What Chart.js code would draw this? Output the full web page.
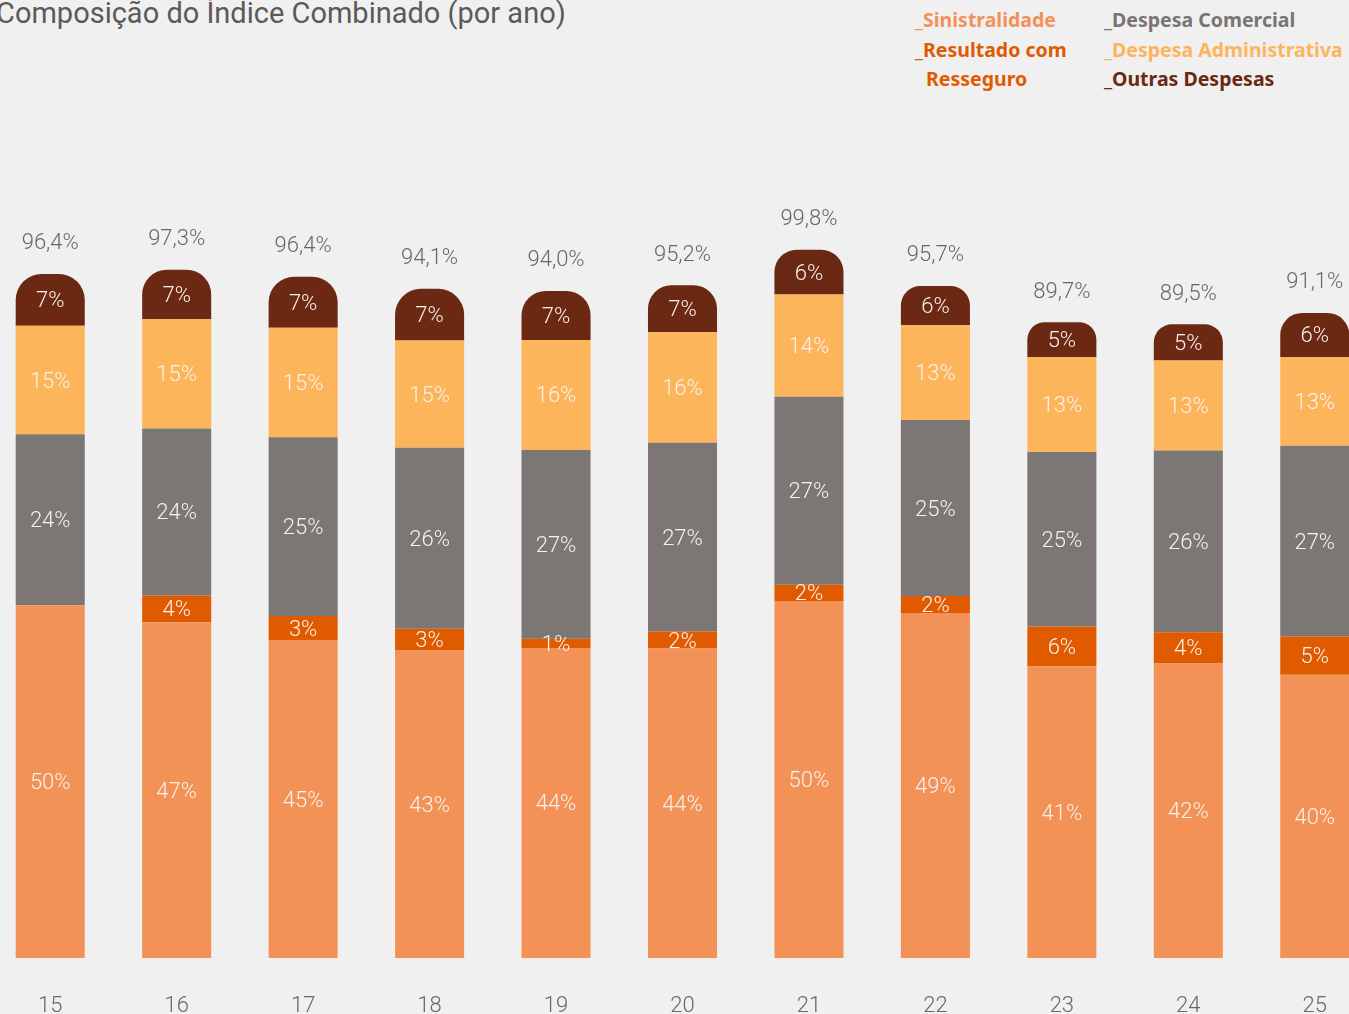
<!DOCTYPE html>
<html>
<head>
<meta charset="utf-8">
<script src="https://cdn.jsdelivr.net/npm/chart.js@4/dist/chart.umd.min.js"></script>
<style>
  html, body { margin: 0; padding: 0; background: #f0f0f0; overflow: hidden; }
  body { width: 1349px; height: 1014px; position: relative; }
  #title { position: absolute; left: -4px; top: -4px; font: 400 29px Roboto, sans-serif; color: #5d5955; white-space: nowrap; }
  .legend { position: absolute; top: 5px; font: 700 19.5px "Noto Sans", sans-serif; line-height: 29.5px; }
  .legend div { white-space: nowrap; }
  #wrap { position: absolute; left: -13px; top: 0; width: 1391px; height: 1014px; }
</style>
</head>
<body>
<div id="title">Composição do Índice Combinado (por ano)</div>
<div class="legend" style="left:915px">
  <div style="color:#f4915a">_Sinistralidade</div>
  <div style="color:#e05a00">_Resultado com</div>
  <div style="color:#e05a00;padding-left:11px">Resseguro</div>
</div>
<div class="legend" style="left:1104px">
  <div style="color:#7a7573">_Despesa Comercial</div>
  <div style="color:#fdb55b">_Despesa Administrativa</div>
  <div style="color:#6b2812">_Outras Despesas</div>
</div>
<div id="wrap"><canvas id="myChart"></canvas></div>
<script>
'use strict';

// data
let years = ['15', '16', '17', '18', '19', '20', '21', '22', '23', '24', '25'];
let sinistralidade = [49.7, 47.3, 44.8, 43.4, 43.7, 43.6, 50.3, 48.6, 41.1, 41.5, 39.9];
let resultadoResseguro = [0, 3.8, 3.4, 3.0, 1.3, 2.4, 2.3, 2.4, 5.6, 4.4, 5.4];
let despesaComercial = [24.1, 23.5, 25.2, 25.5, 26.6, 26.6, 26.5, 24.8, 24.6, 25.6, 26.9];
let despesaAdmin = [15.3, 15.4, 15.4, 15.1, 15.5, 15.6, 14.4, 13.4, 13.4, 12.7, 12.5];
let outrasDespesas = [7.3, 7.0, 7.2, 7.3, 6.9, 6.6, 6.3, 5.5, 4.9, 5.1, 6.2];
let totals = [96.4, 97.3, 96.4, 94.1, 94.0, 95.2, 99.8, 95.7, 89.7, 89.5, 91.1];

// draws the % inside each segment and the total above each bar
const barLabels = {
  id: 'barLabels',
  afterDatasetsDraw(chart) {
    let ctx = chart.ctx;
    ctx.save();
    ctx.textAlign = 'center';
    ctx.textBaseline = 'middle';
    ctx.font = '300 22px Roboto';
    chart.data.datasets.forEach((ds, i) => {
      let meta = chart.getDatasetMeta(i);
      meta.data.forEach((bar, j) => {
        let v = ds.data[j];
        if (!v) return;
        ctx.fillStyle = '#f8f1ec';
        ctx.fillText(Math.round(v) + '%', bar.x, (bar.y + bar.base) / 2 + 2);
      });
    });
    let last = chart.getDatasetMeta(chart.data.datasets.length - 1);
    ctx.fillStyle = '#6b6662';
    last.data.forEach((bar, j) => {
      ctx.fillText(totals[j].toFixed(1).replace('.', ',') + '%', bar.x, bar.y - 30);
    });
    ctx.restore();
  }
};

let ctx = document.getElementById('myChart').getContext('2d');
let myChart = new Chart(ctx, { //eslint-disable-line
  type: 'bar',
  data: {
    labels: years,
    datasets: [
      { label: 'Sinistralidade', data: sinistralidade, backgroundColor: '#f39257' },
      { label: 'Resultado com Resseguro', data: resultadoResseguro, backgroundColor: '#e05a00' },
      { label: 'Despesa Comercial', data: despesaComercial, backgroundColor: '#7c7674' },
      { label: 'Despesa Administrativa', data: despesaAdmin, backgroundColor: '#fdb55b' },
      {
        label: 'Outras Despesas',
        data: outrasDespesas,
        backgroundColor: '#6b2812',
        borderRadius: { topLeft: 35, topRight: 35, bottomLeft: 0, bottomRight: 0 },
        borderSkipped: false
      }
    ]
  },
  options: {
    responsive: true,
    maintainAspectRatio: false,
    animation: false,
    layout: { padding: 0 },
    datasets: { bar: { categoryPercentage: 1, barPercentage: 0.546 } },
    plugins: { legend: { display: false }, tooltip: { enabled: false } },
    scales: {
      x: {
        stacked: true,
        grid: { display: false, drawTicks: false },
        border: { display: false },
        ticks: { color: '#6b6662', font: { family: 'Roboto', size: 22, weight: 300 }, padding: 35 },
        afterFit: scale => { scale.height = 56; }
      },
      y: { stacked: true, display: false, min: 0, max: 135 }
    }
  },
  plugins: [barLabels]
});
</script>
</body>
</html>
